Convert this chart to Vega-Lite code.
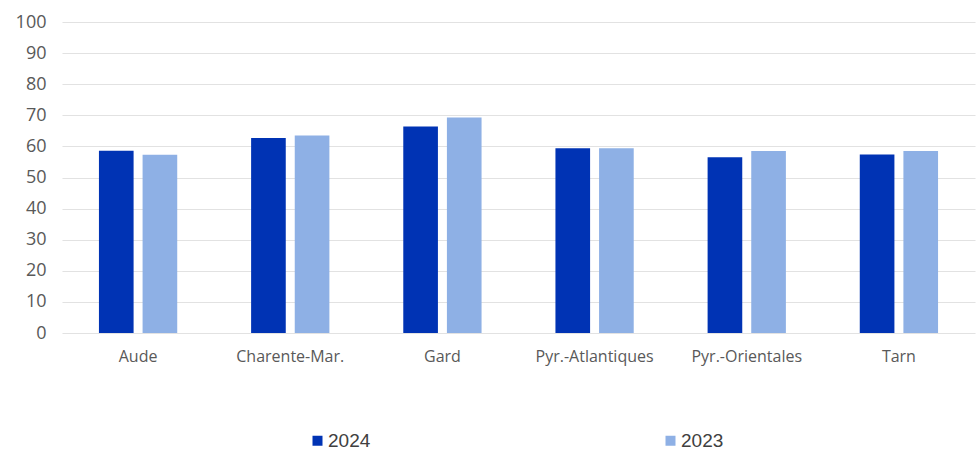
{
  "$schema": "https://vega.github.io/schema/vega-lite/v6.json",
  "width": 913,
  "height": 311,
  "autosize": {"type": "none"},
  "padding": {"left": 62, "top": 22, "right": 2, "bottom": 117},
  "background": "white",
  "data": {
    "values": [
      {"dep": "Aude", "year": "2024", "value": 58.6},
      {"dep": "Aude", "year": "2023", "value": 57.3},
      {"dep": "Charente-Mar.", "year": "2024", "value": 62.7},
      {"dep": "Charente-Mar.", "year": "2023", "value": 63.5},
      {"dep": "Gard", "year": "2024", "value": 66.4},
      {"dep": "Gard", "year": "2023", "value": 69.3},
      {"dep": "Pyr.-Atlantiques", "year": "2024", "value": 59.4},
      {"dep": "Pyr.-Atlantiques", "year": "2023", "value": 59.4},
      {"dep": "Pyr.-Orientales", "year": "2024", "value": 56.5},
      {"dep": "Pyr.-Orientales", "year": "2023", "value": 58.5},
      {"dep": "Tarn", "year": "2024", "value": 57.4},
      {"dep": "Tarn", "year": "2023", "value": 58.5}
    ]
  },
  "mark": {"type": "bar"},
  "encoding": {
    "x": {
      "field": "dep",
      "type": "nominal",
      "sort": null,
      "scale": {"paddingInner": 0.4855, "paddingOuter": 0.2428},
      "axis": {
        "title": null,
        "labelAngle": 0,
        "ticks": false,
        "domain": false,
        "labelFont": "Open Sans",
        "labelFontSize": 16,
        "labelColor": "#595959",
        "labelPadding": 15
      }
    },
    "xOffset": {
      "field": "year",
      "type": "nominal",
      "sort": ["2024", "2023"],
      "scale": {"paddingInner": 0.206, "paddingOuter": 0}
    },
    "y": {
      "field": "value",
      "type": "quantitative",
      "scale": {"domain": [0, 100], "nice": false},
      "axis": {
        "title": null,
        "values": [0, 10, 20, 30, 40, 50, 60, 70, 80, 90, 100],
        "ticks": false,
        "domain": false,
        "grid": true,
        "gridColor": "#e2e2e2",
        "gridWidth": 1.2,
        "labelFont": "Open Sans",
        "labelFontSize": 18,
        "labelColor": "#595959",
        "labelPadding": 16
      }
    },
    "color": {
      "field": "year",
      "type": "nominal",
      "sort": ["2024", "2023"],
      "scale": {"domain": ["2024", "2023"], "range": ["#0033b4", "#8eb0e5"]},
      "legend": {
        "title": null,
        "orient": "none",
        "legendX": 246,
        "legendY": 409,
        "direction": "horizontal",
        "symbolType": "square",
        "symbolSize": 100,
        "symbolStrokeWidth": 0,
        "labelFont": "Liberation Sans",
        "labelFontSize": 19,
        "labelColor": "#404040",
        "labelOffset": 1,
        "columnPadding": 290
      }
    }
  },
  "config": {"view": {"stroke": null}}
}
